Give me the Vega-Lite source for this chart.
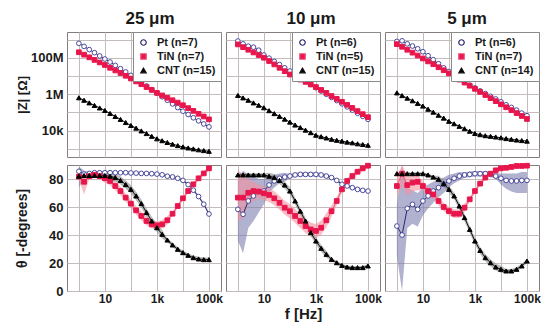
{
"$schema": "https://vega.github.io/schema/vega-lite/v6.json",
"padding": {"left": 14, "top": 9, "right": 0, "bottom": 0},
"config": {
 "font": "Liberation Sans",
 "view": {"stroke": "#857c7c", "strokeWidth": 1},
 "axis": {"grid": true, "gridColor": "#c4bcbc", "gridOpacity": 1, "domain": false, "ticks": false, "labelFontSize": 13, "labelFontWeight": "bold", "labelColor": "#1a1a1a", "labelPadding": 4, "titleFontSize": 14, "titleFontWeight": "bold", "titleColor": "#1a1a1a", "labelOverlap": false},
 "title": {"fontSize": 17, "fontWeight": "bold", "color": "#1a1a1a", "offset": 4, "anchor": "middle"},
 "legend": {"fillColor": "#ffffff", "strokeColor": "#8a8a8a", "padding": 5, "rowPadding": 2, "labelFontSize": 11, "labelFontWeight": "bold", "labelColor": "#1a1a1a", "symbolSize": 30, "symbolStrokeWidth": 1.2, "labelOffset": 8}
},
"datasets": {"d": [
{"s":"25","g":"Pt","f":1,"z":6.2e8,"t":85.5,"lo":74,"hi":89},
{"s":"25","g":"Pt","f":1.585,"z":4.2e8,"t":83.5,"lo":80,"hi":86},
{"s":"25","g":"Pt","f":2.512,"z":2.8e8,"t":84,"lo":83,"hi":85},
{"s":"25","g":"Pt","f":3.981,"z":1.9e8,"t":84.5,"lo":83.5,"hi":85.5},
{"s":"25","g":"Pt","f":6.31,"z":1.26e8,"t":84.5,"lo":83.5,"hi":85.5},
{"s":"25","g":"Pt","f":10,"z":8.5e7,"t":84.5,"lo":83.5,"hi":85.5},
{"s":"25","g":"Pt","f":15.85,"z":5.8e7,"t":84.5,"lo":83.5,"hi":85.5},
{"s":"25","g":"Pt","f":25.12,"z":3.8e7,"t":84.5,"lo":83.5,"hi":85.5},
{"s":"25","g":"Pt","f":39.81,"z":2.5e7,"t":84.5,"lo":83.5,"hi":85.5},
{"s":"25","g":"Pt","f":63.1,"z":1.66e7,"t":84.5,"lo":83.5,"hi":85.5},
{"s":"25","g":"Pt","f":100,"z":1.07e7,"t":84.3,"lo":83.3,"hi":85.3},
{"s":"25","g":"Pt","f":158.5,"z":6.9e6,"t":84.2,"lo":83.2,"hi":85.2},
{"s":"25","g":"Pt","f":251.2,"z":4.4e6,"t":84,"lo":83,"hi":85},
{"s":"25","g":"Pt","f":398.1,"z":2.8e6,"t":84,"lo":83,"hi":85},
{"s":"25","g":"Pt","f":631,"z":1.78e6,"t":83.8,"lo":82.8,"hi":84.8},
{"s":"25","g":"Pt","f":1000,"z":1.15e6,"t":83.5,"lo":82.5,"hi":84.5},
{"s":"25","g":"Pt","f":1585,"z":7.2e5,"t":83,"lo":82,"hi":84},
{"s":"25","g":"Pt","f":2512,"z":4.6e5,"t":82,"lo":81,"hi":83},
{"s":"25","g":"Pt","f":3981,"z":2.9e5,"t":81.5,"lo":80.5,"hi":82.5},
{"s":"25","g":"Pt","f":6310,"z":1.82e5,"t":80.5,"lo":79.5,"hi":81.5},
{"s":"25","g":"Pt","f":10000,"z":1.15e5,"t":79,"lo":78,"hi":80},
{"s":"25","g":"Pt","f":15850,"z":7.6e4,"t":76,"lo":75,"hi":77},
{"s":"25","g":"Pt","f":25120,"z":5.0e4,"t":72,"lo":71,"hi":73},
{"s":"25","g":"Pt","f":39810,"z":3.4e4,"t":67.5,"lo":66.5,"hi":68.5},
{"s":"25","g":"Pt","f":63100,"z":2.3e4,"t":62,"lo":61,"hi":63},
{"s":"25","g":"Pt","f":100000,"z":1.58e4,"t":55,"lo":54,"hi":56},
{"s":"25","g":"TiN","f":1,"z":2.0e8,"t":81.7,"lo":79.7,"hi":83.7},
{"s":"25","g":"TiN","f":1.585,"z":1.48e8,"t":78,"lo":69,"hi":82},
{"s":"25","g":"TiN","f":2.512,"z":1.05e8,"t":82,"lo":80,"hi":84},
{"s":"25","g":"TiN","f":3.981,"z":7.6e7,"t":83,"lo":81,"hi":85},
{"s":"25","g":"TiN","f":6.31,"z":5.5e7,"t":82,"lo":80,"hi":84},
{"s":"25","g":"TiN","f":10,"z":4.0e7,"t":80.5,"lo":77.5,"hi":83.5},
{"s":"25","g":"TiN","f":15.85,"z":2.8e7,"t":78.6,"lo":75.6,"hi":81.6},
{"s":"25","g":"TiN","f":25.12,"z":2.0e7,"t":75,"lo":72,"hi":78},
{"s":"25","g":"TiN","f":39.81,"z":1.45e7,"t":71.4,"lo":68.4,"hi":74.4},
{"s":"25","g":"TiN","f":63.1,"z":1.02e7,"t":66.7,"lo":63.7,"hi":69.7},
{"s":"25","g":"TiN","f":100,"z":7.2e6,"t":62.4,"lo":59.4,"hi":65.4},
{"s":"25","g":"TiN","f":158.5,"z":5.0e6,"t":57.6,"lo":54.6,"hi":60.6},
{"s":"25","g":"TiN","f":251.2,"z":3.5e6,"t":53.6,"lo":50.6,"hi":56.6},
{"s":"25","g":"TiN","f":398.1,"z":2.45e6,"t":50,"lo":47,"hi":53},
{"s":"25","g":"TiN","f":631,"z":1.7e6,"t":47.6,"lo":44.6,"hi":50.6},
{"s":"25","g":"TiN","f":1000,"z":1.17e6,"t":46.9,"lo":43.9,"hi":49.9},
{"s":"25","g":"TiN","f":1585,"z":8.5e5,"t":47.6,"lo":44.6,"hi":50.6},
{"s":"25","g":"TiN","f":2512,"z":6.3e5,"t":50.5,"lo":47.5,"hi":53.5},
{"s":"25","g":"TiN","f":3981,"z":4.6e5,"t":55.2,"lo":53.7,"hi":56.7},
{"s":"25","g":"TiN","f":6310,"z":3.4e5,"t":60.7,"lo":59.2,"hi":62.2},
{"s":"25","g":"TiN","f":10000,"z":2.45e5,"t":66.2,"lo":64.7,"hi":67.7},
{"s":"25","g":"TiN","f":15850,"z":1.7e5,"t":71.4,"lo":69.9,"hi":72.9},
{"s":"25","g":"TiN","f":25120,"z":1.2e5,"t":76.2,"lo":74.7,"hi":77.7},
{"s":"25","g":"TiN","f":39810,"z":8.3e4,"t":80.5,"lo":79,"hi":82},
{"s":"25","g":"TiN","f":63100,"z":5.9e4,"t":84,"lo":82.5,"hi":85.5},
{"s":"25","g":"TiN","f":100000,"z":4.1e4,"t":87.6,"lo":86.1,"hi":89.1},
{"s":"25","g":"CNT","f":1,"z":6.3e5,"t":82,"lo":81,"hi":83},
{"s":"25","g":"CNT","f":1.585,"z":4.6e5,"t":82.5,"lo":81.5,"hi":83.5},
{"s":"25","g":"CNT","f":2.512,"z":3.3e5,"t":82.5,"lo":81.5,"hi":83.5},
{"s":"25","g":"CNT","f":3.981,"z":2.4e5,"t":82.5,"lo":81.5,"hi":83.5},
{"s":"25","g":"CNT","f":6.31,"z":1.74e5,"t":82.5,"lo":81.5,"hi":83.5},
{"s":"25","g":"CNT","f":10,"z":1.26e5,"t":82.5,"lo":81.5,"hi":83.5},
{"s":"25","g":"CNT","f":15.85,"z":8.7e4,"t":82,"lo":79,"hi":85},
{"s":"25","g":"CNT","f":25.12,"z":5.9e4,"t":81,"lo":78,"hi":84},
{"s":"25","g":"CNT","f":39.81,"z":4.1e4,"t":79,"lo":76,"hi":82},
{"s":"25","g":"CNT","f":63.1,"z":2.75e4,"t":76,"lo":73,"hi":79},
{"s":"25","g":"CNT","f":100,"z":1.9e4,"t":72.6,"lo":69.6,"hi":75.6},
{"s":"25","g":"CNT","f":158.5,"z":1.35e4,"t":67.9,"lo":64.9,"hi":70.9},
{"s":"25","g":"CNT","f":251.2,"z":9.5e3,"t":62.4,"lo":59.4,"hi":65.4},
{"s":"25","g":"CNT","f":398.1,"z":6.8e3,"t":56,"lo":53,"hi":59},
{"s":"25","g":"CNT","f":631,"z":4.8e3,"t":50,"lo":47,"hi":53},
{"s":"25","g":"CNT","f":1000,"z":3.5e3,"t":45.2,"lo":42.2,"hi":48.2},
{"s":"25","g":"CNT","f":1585,"z":2.75e3,"t":40.5,"lo":37.5,"hi":43.5},
{"s":"25","g":"CNT","f":2512,"z":2.2e3,"t":36.4,"lo":34.9,"hi":37.9},
{"s":"25","g":"CNT","f":3981,"z":1.78e3,"t":32.9,"lo":31.4,"hi":34.4},
{"s":"25","g":"CNT","f":6310,"z":1.48e3,"t":29.8,"lo":28.3,"hi":31.3},
{"s":"25","g":"CNT","f":10000,"z":1.26e3,"t":27.4,"lo":25.9,"hi":28.9},
{"s":"25","g":"CNT","f":15850,"z":1.1e3,"t":25.5,"lo":24,"hi":27},
{"s":"25","g":"CNT","f":25120,"z":980,"t":23.8,"lo":22.3,"hi":25.3},
{"s":"25","g":"CNT","f":39810,"z":870,"t":22.9,"lo":21.4,"hi":24.4},
{"s":"25","g":"CNT","f":63100,"z":790,"t":22.4,"lo":20.9,"hi":23.9},
{"s":"25","g":"CNT","f":100000,"z":720,"t":22.4,"lo":20.9,"hi":23.9},
{"s":"10","g":"Pt","f":1,"z":8.3e8,"t":58.3,"lo":36,"hi":79},
{"s":"10","g":"Pt","f":1.585,"z":5.8e8,"t":54.8,"lo":27,"hi":86},
{"s":"10","g":"Pt","f":2.512,"z":4.3e8,"t":64.3,"lo":45,"hi":83},
{"s":"10","g":"Pt","f":3.981,"z":3.8e8,"t":67.9,"lo":50,"hi":82},
{"s":"10","g":"Pt","f":6.31,"z":2.6e8,"t":71,"lo":56,"hi":80},
{"s":"10","g":"Pt","f":10,"z":1.41e8,"t":71.4,"lo":62,"hi":80},
{"s":"10","g":"Pt","f":15.85,"z":9.5e7,"t":75.7,"lo":70,"hi":82},
{"s":"10","g":"Pt","f":25.12,"z":6.3e7,"t":78.6,"lo":74,"hi":83},
{"s":"10","g":"Pt","f":39.81,"z":4.2e7,"t":80.5,"lo":77,"hi":84},
{"s":"10","g":"Pt","f":63.1,"z":2.8e7,"t":81.4,"lo":78,"hi":84.5},
{"s":"10","g":"Pt","f":100,"z":1.86e7,"t":82.1,"lo":80.6,"hi":83.6},
{"s":"10","g":"Pt","f":158.5,"z":1.23e7,"t":82.9,"lo":81.4,"hi":84.4},
{"s":"10","g":"Pt","f":251.2,"z":7.9e6,"t":83.3,"lo":81.8,"hi":84.8},
{"s":"10","g":"Pt","f":398.1,"z":5.2e6,"t":83.3,"lo":81.8,"hi":84.8},
{"s":"10","g":"Pt","f":631,"z":3.4e6,"t":83.3,"lo":81.8,"hi":84.8},
{"s":"10","g":"Pt","f":1000,"z":2.24e6,"t":83.3,"lo":81.8,"hi":84.8},
{"s":"10","g":"Pt","f":1585,"z":1.48e6,"t":82.9,"lo":81.4,"hi":84.4},
{"s":"10","g":"Pt","f":2512,"z":9.8e5,"t":82.1,"lo":80.6,"hi":83.6},
{"s":"10","g":"Pt","f":3981,"z":6.6e5,"t":81,"lo":80,"hi":82},
{"s":"10","g":"Pt","f":6310,"z":4.4e5,"t":79,"lo":78,"hi":80},
{"s":"10","g":"Pt","f":10000,"z":2.95e5,"t":76.2,"lo":75.2,"hi":77.2},
{"s":"10","g":"Pt","f":15850,"z":2.0e5,"t":75,"lo":74,"hi":76},
{"s":"10","g":"Pt","f":25120,"z":1.32e5,"t":73.8,"lo":72.8,"hi":74.8},
{"s":"10","g":"Pt","f":39810,"z":8.9e4,"t":72.6,"lo":71.6,"hi":73.6},
{"s":"10","g":"Pt","f":63100,"z":6.0e4,"t":71.9,"lo":70.9,"hi":72.9},
{"s":"10","g":"Pt","f":100000,"z":4.1e4,"t":71.4,"lo":70.4,"hi":72.4},
{"s":"10","g":"TiN","f":1,"z":5.4e8,"t":66.7,"lo":50,"hi":86},
{"s":"10","g":"TiN","f":1.585,"z":3.8e8,"t":66.7,"lo":52,"hi":84},
{"s":"10","g":"TiN","f":2.512,"z":2.75e8,"t":70.2,"lo":62,"hi":80},
{"s":"10","g":"TiN","f":3.981,"z":1.95e8,"t":71.4,"lo":64,"hi":78},
{"s":"10","g":"TiN","f":6.31,"z":1.41e8,"t":71,"lo":66,"hi":76},
{"s":"10","g":"TiN","f":10,"z":1.0e8,"t":69.8,"lo":64.8,"hi":74.8},
{"s":"10","g":"TiN","f":15.85,"z":6.6e7,"t":68.6,"lo":63.6,"hi":73.6},
{"s":"10","g":"TiN","f":25.12,"z":4.3e7,"t":66.2,"lo":61.2,"hi":71.2},
{"s":"10","g":"TiN","f":39.81,"z":2.8e7,"t":63,"lo":58,"hi":68},
{"s":"10","g":"TiN","f":63.1,"z":1.82e7,"t":59.5,"lo":54.5,"hi":64.5},
{"s":"10","g":"TiN","f":100,"z":1.2e7,"t":57,"lo":52,"hi":62},
{"s":"10","g":"TiN","f":158.5,"z":8.7e6,"t":53.6,"lo":48.6,"hi":58.6},
{"s":"10","g":"TiN","f":251.2,"z":6.3e6,"t":50,"lo":45,"hi":55},
{"s":"10","g":"TiN","f":398.1,"z":4.7e6,"t":46.4,"lo":41.4,"hi":51.4},
{"s":"10","g":"TiN","f":631,"z":3.4e6,"t":44,"lo":39,"hi":49},
{"s":"10","g":"TiN","f":1000,"z":2.45e6,"t":42.9,"lo":37.9,"hi":47.9},
{"s":"10","g":"TiN","f":1585,"z":1.7e6,"t":45.2,"lo":40.2,"hi":50.2},
{"s":"10","g":"TiN","f":2512,"z":1.17e6,"t":50.5,"lo":45.5,"hi":55.5},
{"s":"10","g":"TiN","f":3981,"z":7.9e5,"t":57,"lo":53,"hi":61},
{"s":"10","g":"TiN","f":6310,"z":5.5e5,"t":64.3,"lo":61.3,"hi":67.3},
{"s":"10","g":"TiN","f":10000,"z":3.8e5,"t":72.6,"lo":70.6,"hi":74.6},
{"s":"10","g":"TiN","f":15850,"z":2.6e5,"t":78.6,"lo":76.6,"hi":80.6},
{"s":"10","g":"TiN","f":25120,"z":1.74e5,"t":82.1,"lo":80.1,"hi":84.1},
{"s":"10","g":"TiN","f":39810,"z":1.17e5,"t":85.2,"lo":83.2,"hi":87.2},
{"s":"10","g":"TiN","f":63100,"z":7.9e4,"t":87.6,"lo":85.6,"hi":89.6},
{"s":"10","g":"TiN","f":100000,"z":5.4e4,"t":89.5,"lo":88,"hi":90},
{"s":"10","g":"CNT","f":1,"z":8.5e5,"t":82.9,"lo":81.7,"hi":84.1},
{"s":"10","g":"CNT","f":1.585,"z":6.2e5,"t":82.9,"lo":81.7,"hi":84.1},
{"s":"10","g":"CNT","f":2.512,"z":4.6e5,"t":82.9,"lo":81.7,"hi":84.1},
{"s":"10","g":"CNT","f":3.981,"z":3.3e5,"t":82.9,"lo":81.7,"hi":84.1},
{"s":"10","g":"CNT","f":6.31,"z":2.45e5,"t":82.9,"lo":81.7,"hi":84.1},
{"s":"10","g":"CNT","f":10,"z":1.78e5,"t":82.9,"lo":81.7,"hi":84.1},
{"s":"10","g":"CNT","f":15.85,"z":1.23e5,"t":82,"lo":79.5,"hi":84.5},
{"s":"10","g":"CNT","f":25.12,"z":8.5e4,"t":81,"lo":78.5,"hi":83.5},
{"s":"10","g":"CNT","f":39.81,"z":6.0e4,"t":79,"lo":76.5,"hi":81.5},
{"s":"10","g":"CNT","f":63.1,"z":4.2e4,"t":75.7,"lo":73.2,"hi":78.2},
{"s":"10","g":"CNT","f":100,"z":2.9e4,"t":71.4,"lo":68.9,"hi":73.9},
{"s":"10","g":"CNT","f":158.5,"z":2.0e4,"t":64.3,"lo":61.8,"hi":66.8},
{"s":"10","g":"CNT","f":251.2,"z":1.45e4,"t":57,"lo":54.5,"hi":59.5},
{"s":"10","g":"CNT","f":398.1,"z":1.05e4,"t":50,"lo":47.5,"hi":52.5},
{"s":"10","g":"CNT","f":631,"z":7.6e3,"t":41.7,"lo":39.2,"hi":44.2},
{"s":"10","g":"CNT","f":1000,"z":5.5e3,"t":35.7,"lo":33.2,"hi":38.2},
{"s":"10","g":"CNT","f":1585,"z":4.6e3,"t":30.5,"lo":28,"hi":33},
{"s":"10","g":"CNT","f":2512,"z":3.9e3,"t":26.2,"lo":23.7,"hi":28.7},
{"s":"10","g":"CNT","f":3981,"z":3.3e3,"t":22.6,"lo":21.4,"hi":23.8},
{"s":"10","g":"CNT","f":6310,"z":2.9e3,"t":20.2,"lo":19,"hi":21.4},
{"s":"10","g":"CNT","f":10000,"z":2.6e3,"t":18.3,"lo":17.1,"hi":19.5},
{"s":"10","g":"CNT","f":15850,"z":2.3e3,"t":17.1,"lo":15.9,"hi":18.3},
{"s":"10","g":"CNT","f":25120,"z":2.1e3,"t":16.7,"lo":15.5,"hi":17.9},
{"s":"10","g":"CNT","f":39810,"z":1.86e3,"t":16.7,"lo":15.5,"hi":17.9},
{"s":"10","g":"CNT","f":63100,"z":1.7e3,"t":16.7,"lo":15.5,"hi":17.9},
{"s":"10","g":"CNT","f":100000,"z":1.55e3,"t":17.9,"lo":16.7,"hi":19.1},
{"s":"5","g":"Pt","f":1,"z":7.9e8,"t":46.4,"lo":25,"hi":62},
{"s":"5","g":"Pt","f":1.585,"z":8.5e8,"t":40,"lo":0,"hi":90},
{"s":"5","g":"Pt","f":2.512,"z":5.8e8,"t":59,"lo":45,"hi":74},
{"s":"5","g":"Pt","f":3.981,"z":4.4e8,"t":61.9,"lo":48,"hi":72},
{"s":"5","g":"Pt","f":6.31,"z":3.1e8,"t":58.3,"lo":46,"hi":70},
{"s":"5","g":"Pt","f":10,"z":2.14e8,"t":64.3,"lo":54,"hi":74},
{"s":"5","g":"Pt","f":15.85,"z":1.29e8,"t":67.9,"lo":59,"hi":76},
{"s":"5","g":"Pt","f":25.12,"z":7.8e7,"t":71.4,"lo":63,"hi":78},
{"s":"5","g":"Pt","f":39.81,"z":4.7e7,"t":73.8,"lo":67,"hi":80},
{"s":"5","g":"Pt","f":63.1,"z":2.8e7,"t":76.2,"lo":70,"hi":81},
{"s":"5","g":"Pt","f":100,"z":1.74e7,"t":78.6,"lo":74,"hi":83},
{"s":"5","g":"Pt","f":158.5,"z":1.05e7,"t":80.5,"lo":77,"hi":84},
{"s":"5","g":"Pt","f":251.2,"z":6.5e6,"t":82.1,"lo":79,"hi":85},
{"s":"5","g":"Pt","f":398.1,"z":4.5e6,"t":82.9,"lo":80.9,"hi":84.9},
{"s":"5","g":"Pt","f":631,"z":3.1e6,"t":83.3,"lo":81.3,"hi":85.3},
{"s":"5","g":"Pt","f":1000,"z":2.2e6,"t":83.8,"lo":81.8,"hi":85.8},
{"s":"5","g":"Pt","f":1585,"z":1.51e6,"t":83.8,"lo":81.8,"hi":85.8},
{"s":"5","g":"Pt","f":2512,"z":1.07e6,"t":83.8,"lo":81.8,"hi":85.8},
{"s":"5","g":"Pt","f":3981,"z":7.6e5,"t":83.3,"lo":81.3,"hi":85.3},
{"s":"5","g":"Pt","f":6310,"z":5.4e5,"t":82.1,"lo":80.1,"hi":84.1},
{"s":"5","g":"Pt","f":10000,"z":3.8e5,"t":80.5,"lo":76,"hi":84},
{"s":"5","g":"Pt","f":15850,"z":2.6e5,"t":79,"lo":73,"hi":84},
{"s":"5","g":"Pt","f":25120,"z":1.86e5,"t":78.6,"lo":71,"hi":84},
{"s":"5","g":"Pt","f":39810,"z":1.32e5,"t":78.6,"lo":70,"hi":84},
{"s":"5","g":"Pt","f":63100,"z":9.1e4,"t":79,"lo":70,"hi":85},
{"s":"5","g":"Pt","f":100000,"z":6.5e4,"t":79,"lo":70,"hi":85},
{"s":"5","g":"TiN","f":1,"z":5.6e8,"t":75,"lo":68,"hi":82},
{"s":"5","g":"TiN","f":1.585,"z":4.0e8,"t":83.8,"lo":75,"hi":90},
{"s":"5","g":"TiN","f":2.512,"z":2.75e8,"t":75.7,"lo":68,"hi":82},
{"s":"5","g":"TiN","f":3.981,"z":1.9e8,"t":77.4,"lo":71,"hi":83},
{"s":"5","g":"TiN","f":6.31,"z":1.32e8,"t":78,"lo":72,"hi":83},
{"s":"5","g":"TiN","f":10,"z":9.1e7,"t":75,"lo":72,"hi":78},
{"s":"5","g":"TiN","f":15.85,"z":6.3e7,"t":71.4,"lo":68.4,"hi":74.4},
{"s":"5","g":"TiN","f":25.12,"z":4.4e7,"t":69,"lo":66,"hi":72},
{"s":"5","g":"TiN","f":39.81,"z":3.0e7,"t":64.3,"lo":61.3,"hi":67.3},
{"s":"5","g":"TiN","f":63.1,"z":2.05e7,"t":60,"lo":57,"hi":63},
{"s":"5","g":"TiN","f":100,"z":1.38e7,"t":57.1,"lo":54.1,"hi":60.1},
{"s":"5","g":"TiN","f":158.5,"z":9.3e6,"t":55.2,"lo":52.2,"hi":58.2},
{"s":"5","g":"TiN","f":251.2,"z":6.3e6,"t":55.2,"lo":52.2,"hi":58.2},
{"s":"5","g":"TiN","f":398.1,"z":4.3e6,"t":59.5,"lo":56.5,"hi":62.5},
{"s":"5","g":"TiN","f":631,"z":2.9e6,"t":65.5,"lo":64,"hi":67},
{"s":"5","g":"TiN","f":1000,"z":1.95e6,"t":71.4,"lo":69.9,"hi":72.9},
{"s":"5","g":"TiN","f":1585,"z":1.32e6,"t":76.7,"lo":75.2,"hi":78.2},
{"s":"5","g":"TiN","f":2512,"z":8.9e5,"t":81,"lo":79.5,"hi":82.5},
{"s":"5","g":"TiN","f":3981,"z":6.0e5,"t":83.8,"lo":82.3,"hi":85.3},
{"s":"5","g":"TiN","f":6310,"z":4.1e5,"t":86.2,"lo":84.7,"hi":87.7},
{"s":"5","g":"TiN","f":10000,"z":2.75e5,"t":87.6,"lo":86.1,"hi":89.1},
{"s":"5","g":"TiN","f":15850,"z":1.9e5,"t":88,"lo":86.5,"hi":89.5},
{"s":"5","g":"TiN","f":25120,"z":1.32e5,"t":88.6,"lo":87.1,"hi":90},
{"s":"5","g":"TiN","f":39810,"z":9.1e4,"t":89.3,"lo":87.8,"hi":90},
{"s":"5","g":"TiN","f":63100,"z":6.3e4,"t":89.3,"lo":87.8,"hi":90},
{"s":"5","g":"TiN","f":100000,"z":4.3e4,"t":89.5,"lo":88,"hi":90},
{"s":"5","g":"CNT","f":1,"z":1.17e6,"t":83.8,"lo":82.8,"hi":84.8},
{"s":"5","g":"CNT","f":1.585,"z":8.3e5,"t":83.8,"lo":82.8,"hi":84.8},
{"s":"5","g":"CNT","f":2.512,"z":6.0e5,"t":83.8,"lo":82.8,"hi":84.8},
{"s":"5","g":"CNT","f":3.981,"z":4.3e5,"t":83.8,"lo":82.8,"hi":84.8},
{"s":"5","g":"CNT","f":6.31,"z":3.1e5,"t":83.8,"lo":82.8,"hi":84.8},
{"s":"5","g":"CNT","f":10,"z":2.2e5,"t":83.8,"lo":82.8,"hi":84.8},
{"s":"5","g":"CNT","f":15.85,"z":1.48e5,"t":82.9,"lo":81.9,"hi":83.9},
{"s":"5","g":"CNT","f":25.12,"z":1.02e5,"t":81.4,"lo":80.4,"hi":82.4},
{"s":"5","g":"CNT","f":39.81,"z":6.9e4,"t":79.8,"lo":77.3,"hi":82.3},
{"s":"5","g":"CNT","f":63.1,"z":4.8e4,"t":76.7,"lo":74.2,"hi":79.2},
{"s":"5","g":"CNT","f":100,"z":3.2e4,"t":72.6,"lo":70.1,"hi":75.1},
{"s":"5","g":"CNT","f":158.5,"z":2.35e4,"t":67.9,"lo":65.4,"hi":70.4},
{"s":"5","g":"CNT","f":251.2,"z":1.7e4,"t":60.7,"lo":58.2,"hi":63.2},
{"s":"5","g":"CNT","f":398.1,"z":1.26e4,"t":52.4,"lo":49.9,"hi":54.9},
{"s":"5","g":"CNT","f":631,"z":9.1e3,"t":44,"lo":41.5,"hi":46.5},
{"s":"5","g":"CNT","f":1000,"z":6.9e3,"t":35.7,"lo":33.2,"hi":38.2},
{"s":"5","g":"CNT","f":1585,"z":5.9e3,"t":29,"lo":26.5,"hi":31.5},
{"s":"5","g":"CNT","f":2512,"z":5.2e3,"t":23.8,"lo":21.3,"hi":26.3},
{"s":"5","g":"CNT","f":3981,"z":4.8e3,"t":20.2,"lo":17.7,"hi":22.7},
{"s":"5","g":"CNT","f":6310,"z":4.4e3,"t":17.1,"lo":14.6,"hi":19.6},
{"s":"5","g":"CNT","f":10000,"z":4.0e3,"t":15.5,"lo":13,"hi":18},
{"s":"5","g":"CNT","f":15850,"z":3.6e3,"t":14.3,"lo":12.8,"hi":15.8},
{"s":"5","g":"CNT","f":25120,"z":3.3e3,"t":14.3,"lo":12.8,"hi":15.8},
{"s":"5","g":"CNT","f":39810,"z":3.0e3,"t":15.5,"lo":14,"hi":17},
{"s":"5","g":"CNT","f":63100,"z":2.8e3,"t":17.9,"lo":16.4,"hi":19.4},
{"s":"5","g":"CNT","f":100000,"z":2.6e3,"t":21.4,"lo":19.9,"hi":22.9}
]},
"columns": 3,
"spacing": {"row": 2, "column": 2},
"resolve": {"scale": {"color": "independent", "fill": "independent", "stroke": "independent", "shape": "independent"}, "legend": {"color": "independent", "fill": "independent", "stroke": "independent", "shape": "independent"}},
"concat": [
 {"width": 154, "height": 125, "title": {"text": "25 μm", "frame": "group", "dx": 6},
  "data": {"name": "d"}, "transform": [{"filter": "datum.s == '25'"}],
  "encoding": {
   "x": {"field": "f", "type": "quantitative", "scale": {"type": "log", "domain": [0.35, 290000]}, "axis": {"values": [1,10,100,1000,10000,100000], "labels": false, "title": null, "minExtent": 0, "maxExtent": 0}},
   "y": {"field": "z", "type": "quantitative", "scale": {"type": "log", "domain": [350, 2.6e9]}, "axis": {"values": [1000,10000,100000,1000000,10000000,100000000,1000000000], "labelExpr": "datum.value == 10000 ? '10k' : datum.value == 1000000 ? '1M' : datum.value == 100000000 ? '100M' : ''", "title": "|Z| [Ω]", "titleFontSize": 13, "minExtent": 36, "maxExtent": 36, "titlePadding": 2}}
  },
  "layer": [
   {"mark": {"type": "line", "strokeWidth": 1}, "encoding": {"color": {"field": "g", "type": "nominal", "scale": {"domain": ["Pt","TiN","CNT"], "range": ["#28286e","#f2507a","#111111"]}, "legend": {"title": null, "orient": "top-right", "offset": 0, "labelExpr": "datum.label == 'Pt' ? 'Pt (n=7)' : datum.label == 'TiN' ? 'TiN (n=7)' : 'CNT (n=15)'"}}}},
   {"mark": {"type": "point", "size": 22, "strokeWidth": 1, "opacity": 1}, "encoding": {
     "shape": {"field": "g", "type": "nominal", "scale": {"domain": ["Pt","TiN","CNT"], "range": ["circle","square","triangle-up"]}, "legend": {"title": null, "orient": "top-right", "offset": 0, "labelExpr": "datum.label == 'Pt' ? 'Pt (n=7)' : datum.label == 'TiN' ? 'TiN (n=7)' : 'CNT (n=15)'"}},
     "fill": {"field": "g", "type": "nominal", "scale": {"domain": ["Pt","TiN","CNT"], "range": ["#ffffff","#e8164c","#000000"]}, "legend": {"title": null, "orient": "top-right", "offset": 0, "labelExpr": "datum.label == 'Pt' ? 'Pt (n=7)' : datum.label == 'TiN' ? 'TiN (n=7)' : 'CNT (n=15)'"}},
     "stroke": {"field": "g", "type": "nominal", "scale": {"domain": ["Pt","TiN","CNT"], "range": ["#4a4a9c","#e8164c","#000000"]}, "legend": {"title": null, "orient": "top-right", "offset": 0, "labelExpr": "datum.label == 'Pt' ? 'Pt (n=7)' : datum.label == 'TiN' ? 'TiN (n=7)' : 'CNT (n=15)'"}}
   }}
  ]},
 {"width": 154, "height": 125, "title": {"text": "10 μm", "frame": "group", "dx": 8},
  "data": {"name": "d"}, "transform": [{"filter": "datum.s == '10'"}],
  "encoding": {
   "x": {"field": "f", "type": "quantitative", "scale": {"type": "log", "domain": [0.35, 290000]}, "axis": {"values": [1,10,100,1000,10000,100000], "labels": false, "title": null, "minExtent": 0, "maxExtent": 0}},
   "y": {"field": "z", "type": "quantitative", "scale": {"type": "log", "domain": [350, 2.6e9]}, "axis": {"values": [1000,10000,100000,1000000,10000000,100000000,1000000000], "labels": false, "title": null, "minExtent": 0, "maxExtent": 0}}
  },
  "layer": [
   {"mark": {"type": "line", "strokeWidth": 1}, "encoding": {"color": {"field": "g", "type": "nominal", "scale": {"domain": ["Pt","TiN","CNT"], "range": ["#28286e","#f2507a","#111111"]}, "legend": {"title": null, "orient": "top-right", "offset": 0, "labelExpr": "datum.label == 'Pt' ? 'Pt (n=6)' : datum.label == 'TiN' ? 'TiN (n=5)' : 'CNT (n=15)'"}}}},
   {"mark": {"type": "point", "size": 22, "strokeWidth": 1, "opacity": 1}, "encoding": {
     "shape": {"field": "g", "type": "nominal", "scale": {"domain": ["Pt","TiN","CNT"], "range": ["circle","square","triangle-up"]}, "legend": {"title": null, "orient": "top-right", "offset": 0, "labelExpr": "datum.label == 'Pt' ? 'Pt (n=6)' : datum.label == 'TiN' ? 'TiN (n=5)' : 'CNT (n=15)'"}},
     "fill": {"field": "g", "type": "nominal", "scale": {"domain": ["Pt","TiN","CNT"], "range": ["#ffffff","#e8164c","#000000"]}, "legend": {"title": null, "orient": "top-right", "offset": 0, "labelExpr": "datum.label == 'Pt' ? 'Pt (n=6)' : datum.label == 'TiN' ? 'TiN (n=5)' : 'CNT (n=15)'"}},
     "stroke": {"field": "g", "type": "nominal", "scale": {"domain": ["Pt","TiN","CNT"], "range": ["#4a4a9c","#e8164c","#000000"]}, "legend": {"title": null, "orient": "top-right", "offset": 0, "labelExpr": "datum.label == 'Pt' ? 'Pt (n=6)' : datum.label == 'TiN' ? 'TiN (n=5)' : 'CNT (n=15)'"}}
   }}
  ]},
 {"width": 154, "height": 125, "title": {"text": "5 μm", "frame": "group", "dx": 5},
  "data": {"name": "d"}, "transform": [{"filter": "datum.s == '5'"}],
  "encoding": {
   "x": {"field": "f", "type": "quantitative", "scale": {"type": "log", "domain": [0.35, 290000]}, "axis": {"values": [1,10,100,1000,10000,100000], "labels": false, "title": null, "minExtent": 0, "maxExtent": 0}},
   "y": {"field": "z", "type": "quantitative", "scale": {"type": "log", "domain": [350, 2.6e9]}, "axis": {"values": [1000,10000,100000,1000000,10000000,100000000,1000000000], "labels": false, "title": null, "minExtent": 0, "maxExtent": 0}}
  },
  "layer": [
   {"mark": {"type": "line", "strokeWidth": 1}, "encoding": {"color": {"field": "g", "type": "nominal", "scale": {"domain": ["Pt","TiN","CNT"], "range": ["#28286e","#f2507a","#111111"]}, "legend": {"title": null, "orient": "top-right", "offset": 0, "labelExpr": "datum.label == 'Pt' ? 'Pt (n=6)' : datum.label == 'TiN' ? 'TiN (n=7)' : 'CNT (n=14)'"}}}},
   {"mark": {"type": "point", "size": 22, "strokeWidth": 1, "opacity": 1}, "encoding": {
     "shape": {"field": "g", "type": "nominal", "scale": {"domain": ["Pt","TiN","CNT"], "range": ["circle","square","triangle-up"]}, "legend": {"title": null, "orient": "top-right", "offset": 0, "labelExpr": "datum.label == 'Pt' ? 'Pt (n=6)' : datum.label == 'TiN' ? 'TiN (n=7)' : 'CNT (n=14)'"}},
     "fill": {"field": "g", "type": "nominal", "scale": {"domain": ["Pt","TiN","CNT"], "range": ["#ffffff","#e8164c","#000000"]}, "legend": {"title": null, "orient": "top-right", "offset": 0, "labelExpr": "datum.label == 'Pt' ? 'Pt (n=6)' : datum.label == 'TiN' ? 'TiN (n=7)' : 'CNT (n=14)'"}},
     "stroke": {"field": "g", "type": "nominal", "scale": {"domain": ["Pt","TiN","CNT"], "range": ["#4a4a9c","#e8164c","#000000"]}, "legend": {"title": null, "orient": "top-right", "offset": 0, "labelExpr": "datum.label == 'Pt' ? 'Pt (n=6)' : datum.label == 'TiN' ? 'TiN (n=7)' : 'CNT (n=14)'"}}
   }}
  ]},
 {"width": 154, "height": 126,
  "data": {"name": "d"}, "transform": [{"filter": "datum.s == '25'"}],
  "encoding": {
   "x": {"field": "f", "type": "quantitative", "scale": {"type": "log", "domain": [0.35, 290000]}, "axis": {"values": [1,10,100,1000,10000,100000], "labelExpr": "datum.value == 10 ? '10' : datum.value == 1000 ? '1k' : datum.value == 100000 ? '100k' : ''", "labelPadding": 2, "labelFontSize": 12, "title": null}},
   "y": {"field": "t", "type": "quantitative", "scale": {"domain": [0, 90]}, "axis": {"values": [0,20,40,60,80], "title": "θ [-degrees]", "minExtent": 36, "maxExtent": 36, "titlePadding": 2}}
  },
  "layer": [
   {"mark": {"type": "area", "opacity": 0.6}, "encoding": {"y": {"field": "lo", "type": "quantitative", "scale": {"domain": [0, 90]}, "axis": {"values": [0,20,40,60,80], "title": "θ [-degrees]", "minExtent": 36, "maxExtent": 36, "titlePadding": 2}}, "y2": {"field": "hi"}, "fill": {"field": "g", "type": "nominal", "scale": {"domain": ["Pt","TiN","CNT"], "range": ["#7d7db0","#f4919f","#8a8a8a"]}, "legend": null}}},
   {"mark": {"type": "line", "strokeWidth": 1}, "encoding": {"color": {"field": "g", "type": "nominal", "scale": {"domain": ["Pt","TiN","CNT"], "range": ["#28286e","#f2507a","#111111"]}, "legend": null}}},
   {"mark": {"type": "point", "size": 22, "strokeWidth": 1, "opacity": 1}, "encoding": {
     "shape": {"field": "g", "type": "nominal", "scale": {"domain": ["Pt","TiN","CNT"], "range": ["circle","square","triangle-up"]}, "legend": null},
     "fill": {"field": "g", "type": "nominal", "scale": {"domain": ["Pt","TiN","CNT"], "range": ["#ffffff","#e8164c","#000000"]}, "legend": null},
     "stroke": {"field": "g", "type": "nominal", "scale": {"domain": ["Pt","TiN","CNT"], "range": ["#4a4a9c","#e8164c","#000000"]}, "legend": null}
   }}
  ],
  "resolve": {"scale": {"fill": "independent"}}},
 {"width": 154, "height": 126,
  "data": {"name": "d"}, "transform": [{"filter": "datum.s == '10'"}],
  "encoding": {
   "x": {"field": "f", "type": "quantitative", "scale": {"type": "log", "domain": [0.35, 290000]}, "axis": {"values": [1,10,100,1000,10000,100000], "labelExpr": "datum.value == 10 ? '10' : datum.value == 1000 ? '1k' : datum.value == 100000 ? '100k' : ''", "labelPadding": 2, "labelFontSize": 12, "title": "f [Hz]", "titleFontSize": 15, "titlePadding": 2}},
   "y": {"field": "t", "type": "quantitative", "scale": {"domain": [0, 90]}, "axis": {"values": [0,20,40,60,80], "labels": false, "title": null, "minExtent": 0, "maxExtent": 0}}
  },
  "layer": [
   {"mark": {"type": "area", "opacity": 0.6}, "encoding": {"y": {"field": "lo", "type": "quantitative", "scale": {"domain": [0, 90]}, "axis": {"values": [0,20,40,60,80], "labels": false, "title": null, "minExtent": 0, "maxExtent": 0}}, "y2": {"field": "hi"}, "fill": {"field": "g", "type": "nominal", "scale": {"domain": ["Pt","TiN","CNT"], "range": ["#7d7db0","#f4919f","#8a8a8a"]}, "legend": null}}},
   {"mark": {"type": "line", "strokeWidth": 1}, "encoding": {"color": {"field": "g", "type": "nominal", "scale": {"domain": ["Pt","TiN","CNT"], "range": ["#28286e","#f2507a","#111111"]}, "legend": null}}},
   {"mark": {"type": "point", "size": 22, "strokeWidth": 1, "opacity": 1}, "encoding": {
     "shape": {"field": "g", "type": "nominal", "scale": {"domain": ["Pt","TiN","CNT"], "range": ["circle","square","triangle-up"]}, "legend": null},
     "fill": {"field": "g", "type": "nominal", "scale": {"domain": ["Pt","TiN","CNT"], "range": ["#ffffff","#e8164c","#000000"]}, "legend": null},
     "stroke": {"field": "g", "type": "nominal", "scale": {"domain": ["Pt","TiN","CNT"], "range": ["#4a4a9c","#e8164c","#000000"]}, "legend": null}
   }}
  ],
  "resolve": {"scale": {"fill": "independent"}}},
 {"width": 154, "height": 126,
  "data": {"name": "d"}, "transform": [{"filter": "datum.s == '5'"}],
  "encoding": {
   "x": {"field": "f", "type": "quantitative", "scale": {"type": "log", "domain": [0.35, 290000]}, "axis": {"values": [1,10,100,1000,10000,100000], "labelExpr": "datum.value == 10 ? '10' : datum.value == 1000 ? '1k' : datum.value == 100000 ? '100k' : ''", "labelPadding": 2, "labelFontSize": 12, "title": null}},
   "y": {"field": "t", "type": "quantitative", "scale": {"domain": [0, 90]}, "axis": {"values": [0,20,40,60,80], "labels": false, "title": null, "minExtent": 0, "maxExtent": 0}}
  },
  "layer": [
   {"mark": {"type": "area", "opacity": 0.6}, "encoding": {"y": {"field": "lo", "type": "quantitative", "scale": {"domain": [0, 90]}, "axis": {"values": [0,20,40,60,80], "labels": false, "title": null, "minExtent": 0, "maxExtent": 0}}, "y2": {"field": "hi"}, "fill": {"field": "g", "type": "nominal", "scale": {"domain": ["Pt","TiN","CNT"], "range": ["#7d7db0","#f4919f","#8a8a8a"]}, "legend": null}}},
   {"mark": {"type": "line", "strokeWidth": 1}, "encoding": {"color": {"field": "g", "type": "nominal", "scale": {"domain": ["Pt","TiN","CNT"], "range": ["#28286e","#f2507a","#111111"]}, "legend": null}}},
   {"mark": {"type": "point", "size": 22, "strokeWidth": 1, "opacity": 1}, "encoding": {
     "shape": {"field": "g", "type": "nominal", "scale": {"domain": ["Pt","TiN","CNT"], "range": ["circle","square","triangle-up"]}, "legend": null},
     "fill": {"field": "g", "type": "nominal", "scale": {"domain": ["Pt","TiN","CNT"], "range": ["#ffffff","#e8164c","#000000"]}, "legend": null},
     "stroke": {"field": "g", "type": "nominal", "scale": {"domain": ["Pt","TiN","CNT"], "range": ["#4a4a9c","#e8164c","#000000"]}, "legend": null}
   }}
  ],
  "resolve": {"scale": {"fill": "independent"}}}
]
}
